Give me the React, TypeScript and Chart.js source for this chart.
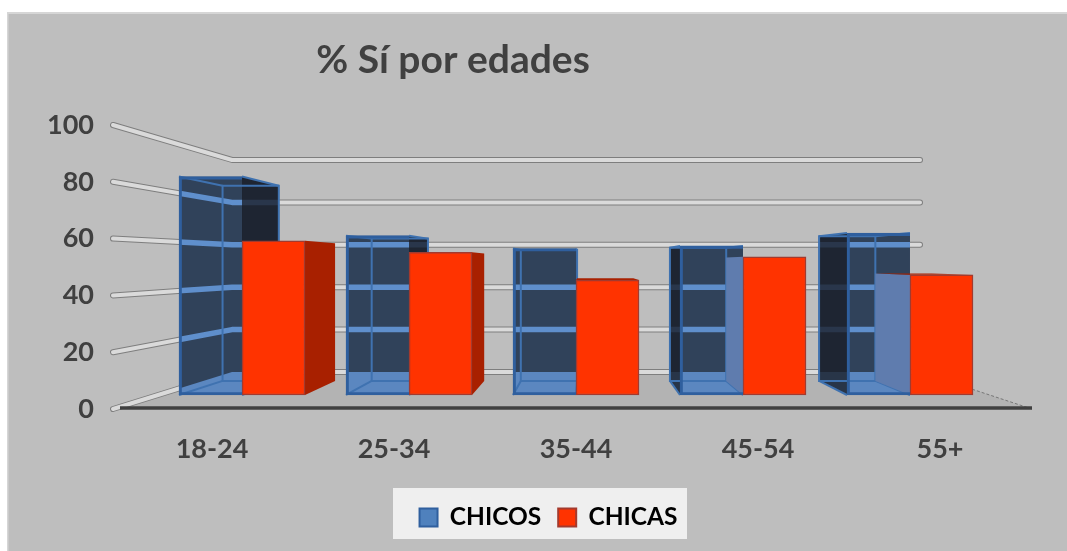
import React, { useEffect, useRef } from "react";
import { Chart, registerables } from "chart.js";

Chart.register(...registerables);

const categories = ["18-24", "25-34", "35-44", "45-54", "55+"];
const chicos = [85, 62, 57, 58, 63];
const chicas = [60, 55.5, 44.7, 53.8, 46.8];
const yTicks = [0, 20, 40, 60, 80, 100];

const FONT = "Lato, 'Open Sans', sans-serif";
const TEXT = "#404040";
const BG = "#BEBEBE";
const BLUE = "#4F81BD";
const BLUE_EDGE = "#2F5F9E";
const RED = "#FF3300";
const RED_EDGE = "#A33A2E";
const RED_DARK = "#A82000";
const DEPTH = 0.107;

type P = [number, number];

function hull(pts: P[]): P[] {
  const s = [...pts].sort((a, b) => a[0] - b[0] || a[1] - b[1]);
  const cross = (o: P, a: P, b: P) => (a[0] - o[0]) * (b[1] - o[1]) - (a[1] - o[1]) * (b[0] - o[0]);
  const build = (list: P[]) => {
    const r: P[] = [];
    for (const p of list) {
      while (r.length >= 2 && cross(r[r.length - 2], r[r.length - 1], p) <= 0) r.pop();
      r.push(p);
    }
    r.pop();
    return r;
  };
  return [...build(s), ...build([...s].reverse())];
}

function poly(ctx: CanvasRenderingContext2D, pts: P[]) {
  ctx.beginPath();
  pts.forEach((p, i) => (i ? ctx.lineTo(p[0], p[1]) : ctx.moveTo(p[0], p[1])));
  ctx.closePath();
}

function geometry(chart: any) {
  const a = chart.chartArea;
  const { y, yw, xb } = chart.scales;
  const vx = xb.getPixelForValue(2.06);
  const vy = y.getPixelForValue(51.3);
  const fl = a.left - 8;
  const fr = a.right + 1;
  const bl = a.left + 111;
  const br = a.right - 111;
  const f0 = y.getPixelForValue(0);
  const b0 = yw.getPixelForValue(0);
  const back = (p: P): P => [p[0] + (vx - p[0]) * DEPTH, p[1] + (vy - p[1]) * DEPTH];
  const floor: P[] = [[fl, f0], [fr, f0], [br, b0], [bl, b0]];
  const ribbons = yTicks.map((t) => ({
    front: y.getPixelForValue(t),
    rear: yw.getPixelForValue(t),
  }));
  return { vx, vy, fl, fr, bl, br, f0, b0, back, floor, ribbons };
}

const scenePlugin = {
  id: "scene",
  afterLayout(chart: any) {
    const t = chart.titleBlock;
    t.left -= 62.5;
    t.right -= 62.5;
    const l = chart.legend;
    l.left += 33;
    l.right += 33;
    l.top = 514 - l.height / 2;
    l.bottom = l.top + l.height;
  },
  beforeDraw(chart: any) {
    const ctx = chart.ctx;
    ctx.save();
    ctx.fillStyle = "#FFFFFF";
    ctx.fillRect(0, 0, chart.width, chart.height);
    ctx.fillStyle = BG;
    ctx.fillRect(7, 12, chart.width - 7, chart.height - 12);
    ctx.fillStyle = "#D6D6D6";
    ctx.fillRect(7, 12, chart.width - 7, 2);
    ctx.fillRect(7, 12, 1.5, chart.height - 12);
    ctx.fillStyle = "#EFEFEF";
    ctx.fillRect(393, 488, 294, 51);
    ctx.restore();
  },
  beforeDatasetsDraw(chart: any) {
    const ctx = chart.ctx;
    const g = geometry(chart);
    ctx.save();
    ctx.fillStyle = "#B3B3B3";
    poly(ctx, g.floor);
    ctx.fill();

    const ribbonPath = (r: { front: number; rear: number }) => {
      ctx.beginPath();
      ctx.moveTo(g.fl, r.front);
      ctx.lineTo(g.bl, r.rear);
      ctx.lineTo(g.br, r.rear);
    };
    ctx.lineCap = "round";
    ctx.lineJoin = "round";
    g.ribbons.forEach((r: any) => {
      ribbonPath(r);
      ctx.strokeStyle = "#7E7E7E";
      ctx.lineWidth = 6;
      ctx.stroke();
      ribbonPath(r);
      ctx.strokeStyle = "#DADADA";
      ctx.lineWidth = 4;
      ctx.stroke();
    });

    ctx.lineCap = "butt";
    ctx.strokeStyle = "#777777";
    ctx.lineWidth = 1;
    ctx.setLineDash([3, 2]);
    ctx.beginPath();
    ctx.moveTo(g.fr, g.f0);
    ctx.lineTo(g.br, g.b0);
    ctx.stroke();
    ctx.setLineDash([]);

    ctx.strokeStyle = "#404040";
    ctx.lineWidth = 3.5;
    ctx.beginPath();
    ctx.moveTo(g.fl + 7, g.f0 - 1);
    ctx.lineTo(g.fr, g.f0 - 1);
    ctx.stroke();

    const boxes = chart.getDatasetMeta(0).data;
    const reds = chart.getDatasetMeta(1).data;
    boxes.forEach((bar: any, i: number) => {
      const p = bar.getProps(["x", "y", "base", "width"], true);
      const x0 = p.x - p.width / 2;
      const x1 = p.x + p.width / 2;
      const ft: P[] = [[x0, p.y], [x1, p.y], [x1, p.base], [x0, p.base]];
      const bk = ft.map(g.back);
      ctx.save();
      poly(ctx, hull([...ft, ...bk]));
      ctx.clip();
      ctx.fillStyle = "#30425A";
      ctx.fill();
      ctx.fillStyle = "#5B87C0";
      poly(ctx, g.floor);
      ctx.fill();
      ctx.lineCap = "butt";
      g.ribbons.forEach((r: any, k: number) => {
        if (k === 0) return;
        ribbonPath(r);
        ctx.strokeStyle = "#5F8FCC";
        ctx.lineWidth = 5.5;
        ctx.stroke();
      });
      ctx.restore();

      const rightFace: P[] = [ft[1], bk[1], bk[2], ft[2]];
      const leftFace: P[] = [ft[0], bk[0], bk[3], ft[3]];
      ctx.fillStyle = "rgba(25,30,38,0.78)";
      if (x1 < g.vx) {
        poly(ctx, rightFace);
        ctx.fill();
      }
      if (x0 > g.vx) {
        poly(ctx, leftFace);
        ctx.fill();
      }

      ctx.strokeStyle = "#3F72B0";
      ctx.lineWidth = 2;
      ctx.lineJoin = "miter";
      poly(ctx, bk);
      ctx.stroke();
      ft.forEach((pt, k) => {
        ctx.beginPath();
        ctx.moveTo(pt[0], pt[1]);
        ctx.lineTo(bk[k][0], bk[k][1]);
        ctx.stroke();
      });

      const rp = reds[i].getProps(["x", "y", "base", "width"], true);
      const rx0 = rp.x - rp.width / 2;
      const rx1 = rp.x + rp.width / 2;
      const rf: P[] = [[rx0, rp.y], [rx1, rp.y], [rx1, rp.base], [rx0, rp.base]];
      const rb = rf.map(g.back);
      if (rx1 < g.vx) {
        ctx.fillStyle = RED_DARK;
        poly(ctx, [rf[1], rb[1], rb[2], rf[2]]);
        ctx.fill();
      }
      if (rx0 > g.vx) {
        ctx.fillStyle = "#5F7CAE";
        poly(ctx, [rf[0], rb[0], rb[3], rf[3]]);
        ctx.fill();
      }
      if (rp.y > g.vy) {
        ctx.fillStyle = RED_DARK;
        poly(ctx, [rf[0], rf[1], rb[1], rb[0]]);
        ctx.fill();
      }
    });
    ctx.restore();
  },
};

export default function App() {
  const ref = useRef<HTMLCanvasElement>(null);
  useEffect(() => {
    document.body.style.margin = "0";
    const chart = new Chart(ref.current as HTMLCanvasElement, {
      type: "bar",
      data: {
        labels: categories,
        datasets: [
          {
            label: "CHICOS",
            data: chicos.map((v, i) => ({ x: i, y: v })),
            xAxisID: "xb",
            yAxisID: "yb",
            backgroundColor: "rgba(0,0,0,0)",
            borderColor: BLUE_EDGE,
            borderWidth: { left: 2.5, top: 2.5, right: 0, bottom: 2.5 },
            borderSkipped: false,
            barThickness: 63,
          },
          {
            label: "CHICAS",
            data: chicas.map((v, i) => ({ x: i, y: v })),
            xAxisID: "xb",
            yAxisID: "yb",
            backgroundColor: RED,
            borderColor: RED_EDGE,
            borderWidth: 1.5,
            borderSkipped: false,
            barThickness: 63,
          },
        ],
      } as any,
      options: {
        responsive: false,
        animation: false,
        layout: { padding: { right: 36 } },
        plugins: {
          tooltip: { enabled: false },
          title: {
            display: true,
            text: "% Sí por edades",
            color: TEXT,
            font: { family: FONT, size: 39, weight: "bold" },
            padding: { top: 36.6, bottom: 41.6 },
          },
          legend: {
            display: true,
            position: "bottom",
            labels: {
              boxWidth: 18,
              boxHeight: 18,
              padding: 17,
              color: TEXT,
              font: { family: FONT, size: 24.5, weight: "bold" },
              generateLabels: () => [
                { text: "CHICOS", fillStyle: BLUE, strokeStyle: BLUE_EDGE, lineWidth: 2, hidden: false, datasetIndex: 0 },
                { text: "CHICAS", fillStyle: RED, strokeStyle: RED_EDGE, lineWidth: 2, hidden: false, datasetIndex: 1 },
              ],
            },
          },
        },
        scales: {
          x: {
            type: "category",
            position: "bottom",
            offset: true,
            grid: { display: false, drawTicks: false },
            border: { display: false },
            ticks: {
              color: TEXT,
              padding: 24,
              maxRotation: 0,
              font: { family: FONT, size: 27, weight: "bold" },
            },
            afterFit: (s: any) => {
              s.height = 551 - 409 - s.chart.legend.height;
            },
          },
          y: {
            type: "linear",
            position: "left",
            min: 0,
            max: 100,
            grid: { display: false, drawTicks: false },
            border: { display: false },
            ticks: {
              stepSize: 20,
              color: TEXT,
              padding: 27,
              font: { family: FONT, size: 27, weight: "bold" },
            },
            afterFit: (s: any) => {
              s.width = 121;
            },
          },
          xb: { type: "linear", axis: "x", position: "bottom", display: false, offset: false, min: -0.7246, max: 4.7246 },
          yb: { type: "linear", axis: "y", position: "left", display: false, min: -5.45, max: 105.06 },
          yw: { type: "linear", axis: "y", position: "left", display: false, min: -17.45, max: 116.5 },
        },
      } as any,
      plugins: [scenePlugin],
    });
    return () => chart.destroy();
  }, []);
  return <canvas ref={ref} width={1067} height={551} style={{ display: "block" }} />;
}
